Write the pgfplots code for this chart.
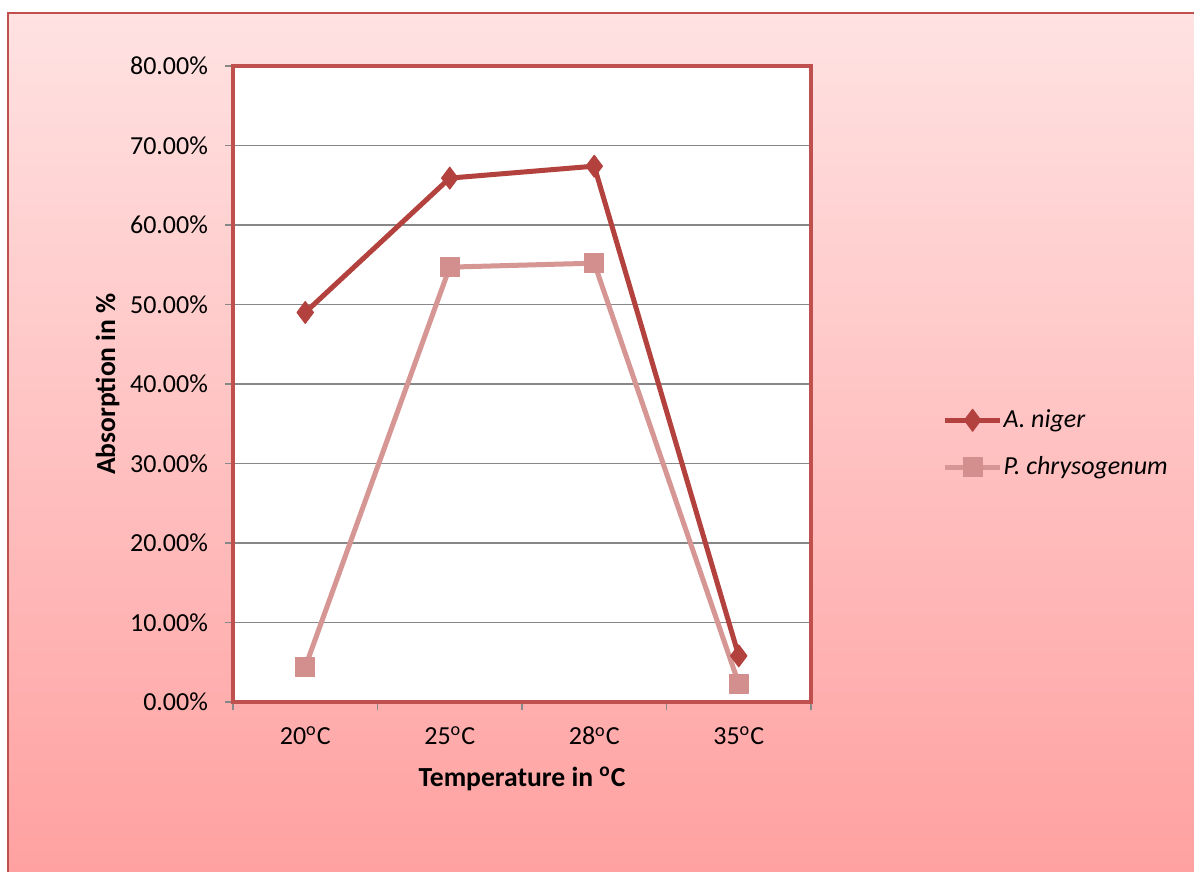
\documentclass[border=0pt]{standalone}
\usepackage{pgfplots}
\pgfplotsset{compat=1.18}
\usepackage{fontspec}
\setmainfont{Carlito}
\definecolor{bordred}{HTML}{C0504D}
\definecolor{niger}{HTML}{B3423E}
\definecolor{chryso}{HTML}{D69694}
\definecolor{chrysomark}{HTML}{D38F8E}
\definecolor{bgtop}{HTML}{FFE2E2}
\definecolor{bgbot}{HTML}{FFA0A0}
\definecolor{gridgray}{HTML}{878787}
\newcommand\fs{\fontsize{13}{15.6}\selectfont}
\newcommand\fl{\fontsize{13.8}{16}\selectfont}
\begin{document}
\begin{tikzpicture}[x=0.5pt,y=0.5pt]
\clip (0,0) rectangle (1194,872);
\fill[white] (0,0) rectangle (1194,872);
\shade[top color=bgtop,bottom color=bgbot] (8,-10) rectangle (1210,859);
\draw[bordred, line width=1pt] (8,-10) -- (8,859) -- (1210,859);
\begin{axis}[
  at={(116.5pt,85pt)}, anchor=south west,
  width=289pt, height=318pt, scale only axis,
  xmin=-0.5, xmax=3.5, ymin=0, ymax=80,
  xtick={0,1,2,3},
  xticklabels={20\textsuperscript{o}C,25\textsuperscript{o}C,28\textsuperscript{o}C,35\textsuperscript{o}C},
  minor xtick={-0.5,0.5,1.5,2.5,3.5},
  ytick={0,10,20,30,40,50,60,70,80},
  yticklabels={0.00\%,10.00\%,20.00\%,30.00\%,40.00\%,50.00\%,60.00\%,70.00\%,80.00\%},
  xtick pos=bottom, ytick pos=left,
  ymajorgrids, grid style={gridgray, line width=0.75pt},
  axis background/.style={fill=white},
  axis line style={bordred, line width=2pt},
  tick style={gridgray, line width=0.75pt},
  major x tick style={draw=none},
  tick align=outside, major tick length=4pt, minor tick length=4pt,
  xticklabel style={font=\fs, yshift=-5pt},
  yticklabel style={font=\fs, xshift=-5pt},
  xlabel={\textbf{Temperature in \textsuperscript{o}C}},
  ylabel={\textbf{Absorption in \%}},
  xlabel style={font=\fl, yshift=-4pt},
  ylabel style={font=\fl, yshift=-1.5pt},
  clip=false,
  legend style={at={(1.227,0.406)}, anchor=west, draw=none, fill=none, font=\fs, row sep=9pt, inner sep=0pt,
    nodes={inner xsep=0.5pt}},
  legend cell align=left,
  legend image code/.code={\draw[mark repeat=2,mark phase=2,#1] plot coordinates {(0pt,0pt) (13.75pt,0pt) (27.5pt,0pt)};},
]
\addplot[niger, line width=2.5pt, line join=round, mark=diamond*, mark size=5.5pt, mark options={solid, fill=niger, line width=0.5pt}]
  coordinates {(0,49.0) (1,65.9) (2,67.4) (3,5.8)};
\addlegendentry{\textit{A. niger}}
\addplot[chryso, line width=2.5pt, line join=round, mark=square*, mark size=4.75pt, mark options={solid, draw=chrysomark, fill=chrysomark, line width=0.5pt}]
  coordinates {(0,4.4) (1,54.7) (2,55.2) (3,2.3)};
\addlegendentry{\textit{P. chrysogenum}}
\end{axis}
\end{tikzpicture}
\end{document}
